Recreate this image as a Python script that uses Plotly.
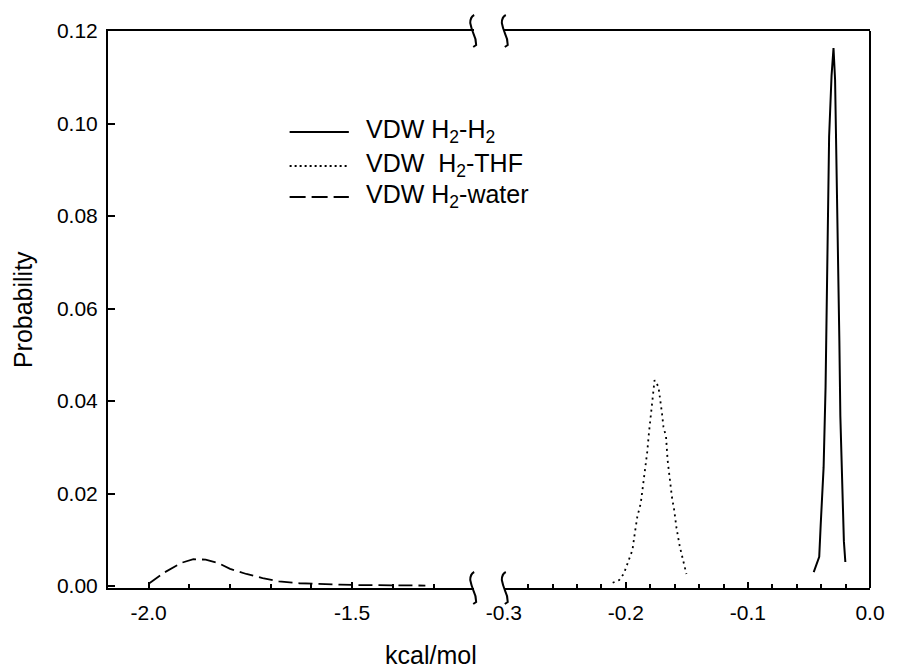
import plotly.graph_objects as go

# ---- data ----
h2h2_x = [-0.0461, -0.0416, -0.0404, -0.0380, -0.0364, -0.0356, -0.0344, -0.0335, -0.0315, -0.0299,
          -0.0286, -0.0275, -0.0263, -0.0251, -0.0243, -0.0226, -0.0214, -0.0202]
h2h2_y = [0.0030, 0.0063, 0.0132, 0.0257, 0.0430, 0.0592, 0.0716, 0.0971, 0.1103, 0.1163,
          0.1094, 0.0941, 0.0716, 0.0530, 0.0368, 0.0205, 0.0097, 0.0052]

thf_x = [-0.2108, -0.2054, -0.2016, -0.1981, -0.1946, -0.1927, -0.1906, -0.1878, -0.1860, -0.1841,
         -0.1825, -0.1811, -0.1793, -0.1779, -0.1765, -0.1733, -0.1717, -0.1704, -0.1692, -0.1671,
         -0.1658, -0.1639, -0.1623, -0.1604, -0.1585, -0.1558, -0.1531, -0.1504]
thf_y = [0.0007, 0.0013, 0.0027, 0.0053, 0.0078, 0.0114, 0.0150, 0.0179, 0.0215, 0.0251,
         0.0290, 0.0331, 0.0373, 0.0413, 0.0445, 0.0431, 0.0402, 0.0373, 0.0344, 0.0323,
         0.0272, 0.0229, 0.0193, 0.0164, 0.0125, 0.0085, 0.0053, 0.0026]

water_x = [-2.00, -1.96, -1.92, -1.89, -1.86, -1.83, -1.80, -1.76, -1.72, -1.68, -1.63,
           -1.58, -1.53, -1.48, -1.43, -1.38, -1.32]
water_y = [0.0005, 0.0030, 0.0050, 0.0058, 0.0057, 0.0050, 0.0037, 0.0026, 0.0017, 0.0010, 0.0006,
           0.0004, 0.0003, 0.0002, 0.0002, 0.0001, 0.0001]

legend_labels = ["VDW H<sub>2</sub>-H<sub>2</sub>",
                 "VDW&nbsp; H<sub>2</sub>-THF",
                 "VDW H<sub>2</sub>-water"]
y_ticks = [0.00, 0.02, 0.04, 0.06, 0.08, 0.10, 0.12]

# ---- layout geometry (pixels) ----
W, H = 897, 671
ML, MR, MT, MB = 108, 17, 31, 83
PW, PH = W - ML - MR, H - MT - MB

def px(x):
    return (x - ML) / PW

def py(y):
    return (H - MB - y) / PH

FONT = "Arial, Liberation Sans, sans-serif"
FS_TICK = 21
FS_TEXT = 25
BLACK = "#000000"

fig = go.Figure()
fig.add_trace(go.Scatter(x=water_x, y=water_y, xaxis="x", yaxis="y", mode="lines",
                         line=dict(color=BLACK, width=1.8, dash="14px,6px"), showlegend=False))
fig.add_trace(go.Scatter(x=thf_x, y=thf_y, xaxis="x2", yaxis="y", mode="lines",
                         line=dict(color=BLACK, width=1.8, dash="2px,4px"), showlegend=False))
fig.add_trace(go.Scatter(x=h2h2_x, y=h2h2_y, xaxis="x2", yaxis="y", mode="lines",
                         line=dict(color=BLACK, width=2), showlegend=False))

d1 = (479 - ML) / PW
d2 = (509 - ML) / PW

common_x = dict(showline=True, linecolor=BLACK, linewidth=2, mirror=True, showgrid=False,
                zeroline=False, ticks="inside", ticklen=6, tickwidth=1.5, tickcolor=BLACK,
                tickfont=dict(family=FONT, size=FS_TICK, color=BLACK), ticklabelstandoff=5)

fig.update_layout(
    width=W, height=H,
    margin=dict(l=ML, r=MR, t=MT, b=MB),
    paper_bgcolor="white", plot_bgcolor="white",
    showlegend=False,
    xaxis=dict(domain=[0, d1], range=[-2.1, -1.2], anchor="y", tickmode="array",
               tickvals=[-2.0, -1.5], ticktext=["-2.0", "-1.5"],
               minor=dict(tickmode="array", tickvals=[-2.1, -1.9, -1.8, -1.7, -1.6, -1.4, -1.3],
                          ticks="inside", ticklen=4, tickwidth=1.5, tickcolor=BLACK),
               **common_x),
    xaxis2=dict(domain=[d2, 1], range=[-0.3, 0.0], anchor="y", tickmode="array",
                tickvals=[-0.3, -0.2, -0.1, 0.0], ticktext=["-0.3", "-0.2", "-0.1", "0.0"],
                minor=dict(dtick=0.02, tick0=0, ticks="inside", ticklen=4, tickwidth=1.5,
                           tickcolor=BLACK),
                **common_x),
    yaxis=dict(range=[-0.00043, 0.12], anchor="x", showline=True, linecolor=BLACK, linewidth=2,
               showgrid=False, zeroline=False, ticks="inside", ticklen=7, tickwidth=1.5,
               tickcolor=BLACK, tickmode="array", tickvals=y_ticks,
               ticktext=[f"{v:.2f}" for v in y_ticks],
               tickfont=dict(family=FONT, size=FS_TICK, color=BLACK), ticklabelstandoff=4),
)

shapes = []
# right border of the right segment
shapes.append(dict(type="line", xref="paper", yref="paper", x0=1, x1=1, y0=0, y1=1,
                   line=dict(color=BLACK, width=2)))

# break brackets
def bracket(cx, cy):
    pts = [(cx + 2, cy - 16), (cx - 2, cy - 14), (cx - 2, cy - 8), (cx - 1, cy - 3),
           (cx + 1, cy + 2), (cx + 4, cy + 8), (cx + 4, cy + 14), (cx + 1, cy + 16)]
    d = "M {} {}".format(px(pts[0][0]), py(pts[0][1]))
    d += " Q {} {} {} {}".format(px(pts[1][0]), py(pts[1][1]), px(pts[2][0]), py(pts[2][1]))
    d += " Q {} {} {} {}".format(px(pts[3][0]), py(pts[3][1]), px(pts[4][0]), py(pts[4][1]))
    d += " Q {} {} {} {}".format(px(pts[5][0]), py(pts[5][1]), px(pts[6][0]), py(pts[6][1]))
    d += " L {} {}".format(px(pts[7][0]), py(pts[7][1]))
    return dict(type="path", xref="paper", yref="paper", path=d,
                line=dict(color=BLACK, width=2))

for cx in (477, 509):
    for cy in (MT, H - MB):
        shapes.append(bracket(cx, cy))

# manual legend
leg_rows = [132, 166, 197]
leg_dash = ["solid", "2px,3px", "16px,6px"]
for ly, dsh in zip(leg_rows, leg_dash):
    shapes.append(dict(type="line", xref="paper", yref="paper", x0=px(292), x1=px(352),
                       y0=py(ly), y1=py(ly), line=dict(color=BLACK, width=2, dash=dsh)))

annotations = []
for ly, lab in zip(leg_rows, legend_labels):
    annotations.append(dict(x=px(367), y=py(ly - 1), xref="paper", yref="paper", text=lab,
                            showarrow=False, xanchor="left", yanchor="middle",
                            font=dict(family=FONT, size=FS_TEXT, color=BLACK)))

annotations.append(dict(x=px(435), y=py(655), xref="paper", yref="paper", text="kcal/mol",
                        showarrow=False, xanchor="center", yanchor="middle",
                        font=dict(family=FONT, size=FS_TEXT, color=BLACK)))
annotations.append(dict(x=px(22), y=py(310), xref="paper", yref="paper", text="Probability",
                        showarrow=False, xanchor="center", yanchor="middle", textangle=-90,
                        font=dict(family=FONT, size=FS_TEXT, color=BLACK)))

fig.update_layout(shapes=shapes, annotations=annotations)
fig.write_html("out.html")
